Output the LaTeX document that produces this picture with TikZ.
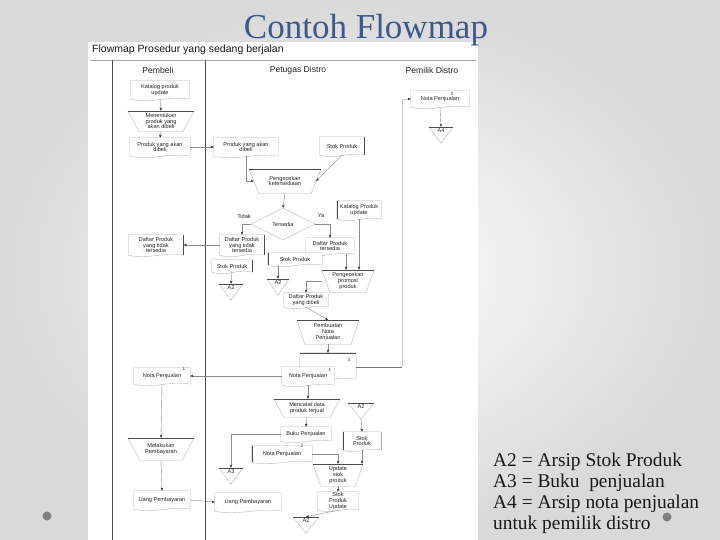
\documentclass[tikz,border=0pt]{standalone}
\usepackage{fontspec}
\setmainfont{Liberation Serif}
\newfontfamily\fmsans{Liberation Sans}
\usetikzlibrary{shapes.geometric,arrows.meta,calc}
\definecolor{titleblue}{RGB}{61,89,140}
\newcommand\flowf{\fmsans\fontsize{5.6}{5.9}\selectfont}
\newcommand\numf{\fmsans\fontsize{4.6}{5}\selectfont}
\newcommand\docout[1]{\draw[shp] (#1.south east) -- (#1.north east) -- (#1.north west) -- (#1.south west) .. controls ($(#1.south west)!0.35!(#1.south east)+(0,5)$) and ($(#1.south west)!0.65!(#1.south east)+(0,-4)$) .. (#1.south east);}
\newcommand\manout[2]{\draw[shp] (#1.north east) -- ($(#1.south east)+(-#2,0)$) -- ($(#1.south west)+(#2,0)$) -- (#1.north west); \draw[topln] (#1.north west) -- (#1.north east);}
\newcommand\storeout[1]{\draw[shp] (#1.north east) -- (#1.south) -- (#1.north west); \draw[topln] (#1.north west) -- (#1.north east);}
\tikzset{
  shp/.style={draw=black!30, line width=0.35pt},
  topln/.style={draw=black!70, line width=0.5pt},
  lane/.style={draw=black!70, line width=0.7pt},
  box/.style={font=\flowf, align=center, inner sep=0pt, text=black!85},
  stor/.style={font=\flowf, inner sep=0pt, text=black!85, minimum width=24, minimum height=16, text height=3.6pt, text depth=9pt},
  arr/.style={draw=black!45, line width=0.4pt, -{Stealth[length=3.2pt,width=2.6pt,color=black!80]}},
  faint/.style={draw=black!20, line width=0.35pt},
  lanehd/.style={font=\fmsans\fontsize{8.6}{10}\selectfont, inner sep=0pt, text=black!85},
  num/.style={font=\numf, inner sep=0pt, text=black!85},
  legend/.style={font=\fontsize{19.4}{21}\selectfont, anchor=base west, inner sep=0pt, text=black!90}
}
\begin{document}
\begin{tikzpicture}[x=1pt,y=-1pt]
\useasboundingbox (0,0) rectangle (720,540);
\shade[inner color=white, outer color=black!15] (0,0) rectangle (720,540);
\fill[white] (88,42) rectangle (478,540);

% title and legend
\node[font=\fontsize{35}{40}\selectfont, text=titleblue, anchor=base, inner sep=0] (title) at (366,39) {Contoh Flowmap};
\node[legend] (leg1) at (493,466) {A2 = Arsip Stok Produk};
\node[legend] (leg2) at (493,487) {A3 = Buku\ \ penjualan};
\node[legend] (leg3) at (493,508) {A4 = Arsip nota penjualan};
\node[legend] (leg4) at (493,529) {untuk pemilik distro};
\fill[black!50] (47,516) circle (4.5);
\fill[black!50] (667,517) circle (4.5);

% frame of flowmap
\node[font=\fmsans\fontsize{10.5}{12}\selectfont, anchor=west, inner sep=0, text=black!90] (hdr) at (92,50) {Flowmap Prosedur yang sedang berjalan};
\draw[draw=black!35, line width=0.6pt] (90,60) -- (476,60);
\draw[lane] (112,60) -- (112,540);
\draw[lane] (205,60) -- (205,540);
\node[lanehd] (h1) at (158,70) {Pembeli};
\node[lanehd] (h2) at (298,70) {Petugas Distro};
\node[lanehd] (h3) at (432,70) {Pemilik Distro};

% ---------- Pembeli ----------
\node[box, minimum width=58, minimum height=18] (d1) at (160,90) {Katalog produk\\update};
\node[box, minimum width=66, minimum height=20] (m1) at (161,121) {Menentukan\\produk yang\\akan dibeli};
\node[box, minimum width=60, minimum height=18] (d2) at (160,147) {Produk yang akan\\dibeli};
\node[box, minimum width=55, minimum height=20] (d3) at (156,245) {Daftar Produk\\yang tidak\\tersedia};
\node[box, minimum width=56, minimum height=16] (d4) at (162,376) {Nota Penjualan};
\node[num] (d4n) at (184,369) {1};
\node[box, minimum width=66, minimum height=22] (m2) at (161,449) {Melakukan\\Pembayaran};
\node[box, minimum width=56, minimum height=18] (d5) at (162,500) {Uang Pembayaran};
\docout{d1} \manout{m1}{11} \docout{d2} \docout{d3} \docout{d4} \manout{m2}{12} \docout{d5}
\draw[topln] (d3.north east) -- (d3.south east);

% ---------- Petugas Distro ----------
\node[box, minimum width=64, minimum height=18] (p1) at (246,147) {Produk yang akan\\dibeli};
\node[box, minimum width=44, minimum height=18] (p2) at (342,146) {Stok Produk};
\node[box, minimum width=72, minimum height=24] (p3) at (285,181) {Pengecekan\\ketersediaan};
\node[diamond, shp, aspect=2, minimum width=64, minimum height=32, inner sep=0pt, font=\flowf, text=black!85] (dec) at (283,224) {Tersedia};
\node[box] (ltidak) at (244,216) {Tidak};
\node[box] (lya) at (321,216) {Ya};
\node[box, minimum width=44, minimum height=18] (p4) at (359,210) {Katalog Produk\\update};
\node[box, minimum width=44, minimum height=20] (p5) at (242,245) {Daftar Produk\\yang tidak\\tersedia};
\node[box, minimum width=40, minimum height=12, fill=white] (p6) at (232,266) {Stok Produk};
\node[stor] (a2a) at (231,292) {A2};
\node[box, minimum width=48, minimum height=16] (p7) at (330,246) {Daftar Produk\\tersedia};
\node[stor, minimum width=22] (a2b) at (278,287) {A2};
\node[box, minimum width=52, minimum height=22] (p9) at (348,281) {Pengecekan\\promosi\\produk};
\node[box, minimum width=44, minimum height=14] (p10) at (306,300) {Daftar Produk\\yang dibeli};
\node[box, minimum width=62, minimum height=24] (p11) at (328,332) {Pembuatan\\Nota\\Penjualan};
\node[box, minimum width=56, minimum height=26] (p12b) at (328,366) {};
\docout{p1} \docout{p2} \manout{p3}{10} \docout{p4} \docout{p5} \docout{p6} \storeout{a2a}
\docout{p7} \storeout{a2b} \manout{p9}{8} \docout{p10} \manout{p11}{8} \docout{p12b}
\draw[topln] (p2.north east) -- (p2.south east);
\draw[topln] (p4.north west) -- (p4.south west);
\draw[topln] (p5.north east) -- (p5.south east);
\draw[topln] (p6.north east) -- (p6.south east);
\draw[topln] (p12b.north west) -- (p12b.north east);
\node[num] (p12bn) at (349,360) {3};
\node[box, minimum width=52, minimum height=18, fill=white] (p12a) at (308,376) {Nota Penjualan};
\node[num] (p12an) at (330,370) {1};
\docout{p12a}
\node[box, fill=white, minimum width=54, minimum height=12] (p8b) at (295,259) {Stok Produk};
\docout{p8b}
\draw[topln] (p8b.north west) -- (p8b.south west);
\node[box, minimum width=66, minimum height=18] (p13) at (307,408) {Mencatat data\\produk terjual};
\node[stor, minimum width=26] (a2c) at (361,411) {A2};
\node[box, minimum width=50, minimum height=14] (p14) at (306,434) {Buku Penjualan};
\node[box, minimum width=60, minimum height=16, fill=white] (p15) at (282,454) {Nota Penjualan};
\node[num] (p15n) at (302,446) {2};
\node[stor] (a3) at (231,476) {A3};
\node[box, minimum width=66, minimum height=18] (pu) at (248,502) {Uang Pembayaran};
\node[box, minimum width=38, minimum height=18] (p17) at (362,441) {Stok\\Produk};
\node[box, minimum width=50, minimum height=22] (p18) at (338,475) {Update\\stok\\produk};
\node[box, minimum width=40, minimum height=18] (p19) at (338,501) {Stok\\Produk\\Update};
\node[stor, minimum width=26] (a2d) at (306,525) {A2};
\manout{p13}{10} \storeout{a2c} \docout{p14} \docout{p15} \storeout{a3} \docout{pu}
\docout{p17} \manout{p18}{8} \docout{p19} \storeout{a2d}
\draw[topln] (p15.north west) -- (p15.south west);
\draw[shp] (p17.north east) -- (p17.south east);
\draw[topln] (p17.north west) -- (p17.south west);

% ---------- Pemilik Distro ----------
\node[box, minimum width=58, minimum height=16] (q1) at (440,99) {Nota Penjualan};
\node[num] (q1n) at (452,93.5) {3};
\node[stor] (a4) at (441,135) {A4};
\docout{q1} \storeout{a4}

% ---------- connectors ----------
\draw[arr] (d1.south) -- (m1.north);
\draw[arr] (m1.south) -- (d2.north);
\draw[arr] (d2.east) -- (p1.west);
\draw[arr] (p1.south) |- ($(p3.west)+(5,0)$);
\draw[arr] (p2.south) -- ($(p3.east)+(-5,0)$);
\draw[arr] (p3.south) -- (dec.north);
\draw[arr] (dec.west) -| (p5.north);
\draw[arr] (dec.east) -| (p7.north);
\draw[arr] (p5.west) -- (p5.west -| d3.east);
\draw[arr] (p6.south) -- (a2a.north);
\draw[arr] (a2b.north |- p8b.south) -- (a2b.north);
\coordinate (p9in1) at ($(p9.north)+(-2,0)$);
\coordinate (p9in2) at ($(p9.north)+(11,0)$);
\draw[arr] (p9in1 |- p7.south) -- (p9in1);
\draw[arr] (p9in2 |- p4.south) -- (p9in2);
\draw[arr] (p9.west) -| (p10.north);
\draw[arr] (p10.south) -- (p11.north);
\draw[arr] (p11.south) -- (p11.south |- p12b.north);
\coordinate (jog) at (402,367);
\draw[draw=black!55, line width=0.4pt] (p12b.east |- jog) -- (jog);
\draw[faint, -{Stealth[length=3.2pt,width=2.6pt,color=black!80]}] (jog) |- (q1.west);
\draw[arr] (p12a.west) -- (p12a.west -| d4.east);
\draw[arr] (p12a.south) -- (p12a.south |- p13.north);
\draw[arr] (p13.south) -- (p14.north);
\draw[arr] (p14.west) -| (a3.north);
\draw[arr] (a2c.south) -- (p17.north);
\draw[arr] (p17.south) -- (p17.south |- p18.north);
\draw[arr] (p15.east) -| (p18.north);
\draw[arr] (p18.south) -- (p19.north);
\draw[arr] (p19.south) -- (a2d.north);
\draw[arr] (d4.south) -- (m2.north);
\draw[arr] (m2.south) -- (d5.north);
\draw[arr] (d5.east) -- (pu.west);
\draw[arr] (q1.south) -- (a4.north);
\end{tikzpicture}
\end{document}
